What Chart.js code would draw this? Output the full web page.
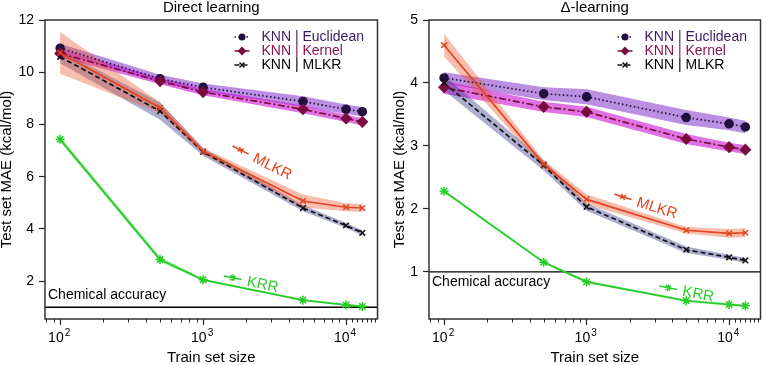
<!DOCTYPE html>
<html><head><meta charset="utf-8">
<script src="https://cdn.jsdelivr.net/npm/chart.js@4.4.1/dist/chart.umd.min.js"></script>
<style>
html,body{margin:0;padding:0;background:#fff;overflow:hidden;}
#wrap{position:relative;width:767px;height:365px;}
canvas{position:absolute;top:0;}
</style></head><body>
<div id="wrap">
<canvas id="c1" width="384" height="365" style="left:0"></canvas>
<canvas id="c2" width="383" height="365" style="left:384px"></canvas>
</div>
<script>
// ---------- data ----------
const trainSizes = [100, 500, 1000, 5000, 10000, 13000];

const directEuclidean    = [10.92, 9.75, 9.42, 8.88, 8.58, 8.49];
const directEuclideanErr = [0.17, 0.15, 0.15, 0.20, 0.18, 0.18];
const directKernel       = [10.72, 9.66, 9.24, 8.58, 8.23, 8.10];
const directKernelErr    = [0.15, 0.12, 0.12, 0.15, 0.14, 0.14];
const directKnnMlkr      = [10.59, 8.51, 6.95, 4.80, 4.13, 3.85];
const directKnnMlkrErr   = [0.25, 0.33, 0.15, 0.12, 0.10, 0.10];
const directMlkr         = [10.74, 8.64, 6.98, 5.07, 4.83, 4.80];
const directMlkrErr      = [0.80, 0.20, 0.12, 0.25, 0.15, 0.15];
const directKrr          = [7.43, 2.83, 2.05, 1.27, 1.09, 1.03];
const directKrrErr       = [0.10, 0.10, 0.04, 0.03, 0.03, 0.03];

const deltaEuclidean     = [4.08, 3.83, 3.78, 3.45, 3.35, 3.30];
const deltaEuclideanErr  = [0.09, 0.10, 0.12, 0.12, 0.10, 0.10];
const deltaKernel        = [3.93, 3.62, 3.54, 3.11, 2.98, 2.94];
const deltaKernelErr     = [0.10, 0.08, 0.08, 0.08, 0.07, 0.07];
const deltaKnnMlkr       = [4.00, 2.69, 2.03, 1.35, 1.23, 1.18];
const deltaKnnMlkrErr    = [0.12, 0.08, 0.06, 0.05, 0.04, 0.04];
const deltaMlkr          = [4.60, 2.71, 2.15, 1.66, 1.61, 1.62];
const deltaMlkrErr       = [0.18, 0.06, 0.08, 0.05, 0.07, 0.07];
const deltaKrr           = [2.28, 1.15, 0.84, 0.54, 0.48, 0.46];
const deltaKrrErr        = [0.02, 0.02, 0.02, 0.02, 0.02, 0.02];

const panelTitles = ['Direct learning', 'Δ-learning'];
const xAxisTitle = 'Train set size';
const yAxisTitle = 'Test set MAE (kcal/mol)';
const legendLabels = ['KNN | Euclidean', 'KNN | Kernel', 'KNN | MLKR'];
const inlineLabels = ['MLKR', 'KRR'];
const chemAccuracyLabel = 'Chemical accuracy';
const chemAccuracy = 1;

const xMajorTicks = [100, 1000, 10000];
const xMajorExponents = ['2', '3', '4'];
const xMinorTicks = [80, 90, 200, 300, 400, 500, 600, 700, 800, 900,
  2000, 3000, 4000, 5000, 6000, 7000, 8000, 9000, 11000, 12000, 13000, 14000, 15000, 16000];
const directYTicks = [2, 4, 6, 8, 10, 12];
const deltaYTicks = [1, 2, 3, 4, 5];
const xRange = [78.4, 16600];
const directYRange = [0.55, 12];
const deltaYRange = [0.25, 5];

// inline label anchors (data units): [MLKR, KRR]
const directInlinePos = [[1830, 7.02], [1610, 2.13]];
const deltaInlinePos = [[1800, 2.19], [3730, 0.746]];

// ---------- styles ----------
const FONT = '"Liberation Sans", Arial, Helvetica, sans-serif';
Chart.defaults.font.family = FONT;
Chart.defaults.color = '#000';

const ST = {
  euc:  {line: '#22103f', band: 'rgba(130,50,200,0.55)', dash: [1.5, 2.5], point: 'circle',   r: 4,   text: '#3b1a60', lineOrder: 4, bandOrder: 14},
  ker:  {line: '#7a0d3f', band: 'rgba(205,20,210,0.6)',  dash: [7, 2.5, 2, 2.5], point: 'rectRot', r: 5, text: '#8a1650', lineOrder: 3, bandOrder: 13},
  knn:  {line: '#111111', band: 'rgba(60,60,140,0.42)',  dash: [5, 3],     point: 'crossRot', r: 4,   text: '#000000', lineOrder: 2, bandOrder: 12},
  mlkr: {line: '#e5431d', band: 'rgba(235,90,50,0.4)',   dash: [],         point: 'crossRot', r: 4,   text: '#e5431d', lineOrder: 1, bandOrder: 11},
  krr:  {line: '#25cc25', band: 'rgba(40,200,40,0.4)',   dash: [],         point: 'star',     r: 4.5, text: '#25cc25', lineOrder: 0, bandOrder: 10}
};

function pts(vals, errs, sign) {
  return trainSizes.map((x, i) => ({x: x, y: vals[i] + sign * (errs ? errs[i] : 0)}));
}

function seriesDatasets(key, vals, errs) {
  const s = ST[key];
  return [
    {data: pts(vals, errs, 1), borderWidth: 0, pointRadius: 0, fill: false, order: s.bandOrder, borderColor: 'rgba(0,0,0,0)'},
    {data: pts(vals, errs, -1), borderWidth: 0, pointRadius: 0, fill: '-1', backgroundColor: s.band, order: s.bandOrder, borderColor: 'rgba(0,0,0,0)'},
    {data: pts(vals, null, 0), borderColor: s.line, borderWidth: 1.7, borderDash: s.dash, fill: false,
     pointStyle: s.point, pointRadius: s.r, pointBackgroundColor: s.line, pointBorderColor: s.line,
     pointBorderWidth: 1.5, order: s.lineOrder}
  ];
}

function drawMarker(ctx, style, r, x, y, color) {
  ctx.save();
  ctx.setLineDash([]);
  ctx.fillStyle = color; ctx.strokeStyle = color; ctx.lineWidth = 1.5;
  ctx.beginPath();
  if (style === 'circle') { ctx.arc(x, y, r, 0, Math.PI * 2); ctx.fill(); }
  else if (style === 'rectRot') { ctx.moveTo(x, y - r); ctx.lineTo(x + r, y); ctx.lineTo(x, y + r); ctx.lineTo(x - r, y); ctx.closePath(); ctx.fill(); }
  else if (style === 'crossRot') { const d = r * Math.SQRT1_2; ctx.moveTo(x - d, y - d); ctx.lineTo(x + d, y + d); ctx.moveTo(x + d, y - d); ctx.lineTo(x - d, y + d); ctx.stroke(); }
  else if (style === 'star') { const d = r * Math.SQRT1_2; ctx.moveTo(x - d, y - d); ctx.lineTo(x + d, y + d); ctx.moveTo(x + d, y - d); ctx.lineTo(x - d, y + d); ctx.moveTo(x, y - r); ctx.lineTo(x, y + r); ctx.moveTo(x - r, y); ctx.lineTo(x + r, y); ctx.stroke(); }
  ctx.restore();
}

const decor = {
  id: 'decor',
  beforeDatasetsDraw(chart, args, o) {
    const {ctx, chartArea: a} = chart;
    const y = chart.scales.y;
    const py = y.getPixelForValue(chemAccuracy);
    ctx.save();
    ctx.strokeStyle = '#000'; ctx.lineWidth = 1.3;
    ctx.beginPath(); ctx.moveTo(a.left, py); ctx.lineTo(a.right, py); ctx.stroke();
    ctx.fillStyle = '#000'; ctx.font = '14px ' + FONT;
    ctx.textAlign = 'left'; ctx.textBaseline = 'alphabetic';
    ctx.fillText(chemAccuracyLabel, a.left + 3, py + o.chemOffset);
    ctx.restore();
  },
  afterDraw(chart, args, o) {
    const {ctx, chartArea: a} = chart;
    const xs = chart.scales.x, ys = chart.scales.y;
    ctx.save();
    // frame
    ctx.strokeStyle = '#333'; ctx.lineWidth = 1.5; ctx.setLineDash([]);
    ctx.strokeRect(a.left, a.top, a.right - a.left, a.bottom - a.top);
    // minor x ticks
    ctx.lineWidth = 1; ctx.strokeStyle = '#222';
    xMinorTicks.forEach(v => {
      const px = Math.round(xs.getPixelForValue(v)) + 0.5;
      ctx.beginPath(); ctx.moveTo(px, a.bottom); ctx.lineTo(px, a.bottom + 3.5); ctx.stroke();
    });
    // x tick labels 10^n
    ctx.fillStyle = '#000'; ctx.textAlign = 'left'; ctx.textBaseline = 'alphabetic';
    xMajorTicks.forEach((v, i) => {
      const px = xs.getPixelForValue(v);
      ctx.font = '14px ' + FONT;
      const w1 = ctx.measureText('10').width;
      ctx.fillText('10', px - 12, a.bottom + 23);
      ctx.font = '10px ' + FONT;
      ctx.fillText(xMajorExponents[i], px - 12 + w1 + 1, a.bottom + 16.5);
    });
    // legend
    const keys = ['euc', 'ker', 'knn'];
    keys.forEach((k, i) => {
      const s = ST[k];
      const yy = o.legendTop + i * 14;
      const hx = a.right - 143;
      ctx.strokeStyle = s.line; ctx.lineWidth = 1.5;
      ctx.setLineDash(k === 'ker' ? [] : s.dash);
      ctx.beginPath(); ctx.moveTo(hx, yy); ctx.lineTo(hx + 15, yy); ctx.stroke();
      ctx.setLineDash([]);
      drawMarker(ctx, s.point, k === 'ker' ? 4.5 : 3.5, hx + 7.5, yy, s.line);
      ctx.fillStyle = s.text; ctx.font = '14px ' + FONT;
      ctx.textBaseline = 'middle'; ctx.textAlign = 'left';
      ctx.fillText(legendLabels[i], a.right - 116, yy + 0.5);
    });
    // inline labels
    const inl = [['mlkr', o.mlkrVals, o.inline[0]], ['krr', o.krrVals, o.inline[1]]];
    inl.forEach(([k, vals, pos], i) => {
      const s = ST[k];
      const x1 = xs.getPixelForValue(trainSizes[2]), y1 = ys.getPixelForValue(vals[2]);
      const x2 = xs.getPixelForValue(trainSizes[3]), y2 = ys.getPixelForValue(vals[3]);
      const ang = Math.atan2(y2 - y1, x2 - x1);
      const px = xs.getPixelForValue(pos[0]), py = ys.getPixelForValue(pos[1]);
      ctx.save();
      ctx.translate(px, py); ctx.rotate(ang);
      ctx.strokeStyle = s.line; ctx.lineWidth = 1.5; ctx.setLineDash([]);
      ctx.beginPath(); ctx.moveTo(-9, 0); ctx.lineTo(9, 0); ctx.stroke();
      drawMarker(ctx, s.point, 3.5, 0, 0, s.line);
      ctx.fillStyle = s.line; ctx.font = '15px ' + FONT;
      ctx.textAlign = 'left'; ctx.textBaseline = 'middle';
      ctx.fillText(inlineLabels[i], 15, 1);
      ctx.restore();
    });
    ctx.restore();
  }
};

function makeChart(id, title, vals, yRange, yTicks, opts) {
  const datasets = [].concat(
    seriesDatasets('euc', vals.euc, vals.eucErr),
    seriesDatasets('ker', vals.ker, vals.kerErr),
    seriesDatasets('knn', vals.knn, vals.knnErr),
    seriesDatasets('mlkr', vals.mlkr, vals.mlkrErr),
    seriesDatasets('krr', vals.krr, vals.krrErr)
  );
  return new Chart(document.getElementById(id), {
    type: 'line',
    data: {datasets},
    plugins: [decor],
    options: {
      responsive: false, animation: false, devicePixelRatio: 1,
      layout: {padding: {left: 0, right: opts.padRight, top: 0, bottom: 0}},
      plugins: {
        legend: {display: false}, tooltip: {enabled: false}, title: {display: false},
        decor: {chemOffset: opts.chemOffset, legendTop: 37, inline: opts.inline, mlkrVals: vals.mlkr, krrVals: vals.krr}
      },
      scales: {
        x: {
          type: 'logarithmic', position: 'bottom', min: xRange[0], max: xRange[1],
          afterBuildTicks: s => { s.ticks = xMajorTicks.map(v => ({value: v, major: true})); },
          afterFit: s => { s.height = 46; },
          ticks: {display: false, autoSkip: false},
          grid: {display: true, drawOnChartArea: false, drawTicks: true, tickLength: 6, tickColor: '#222', tickWidth: 1.2},
          border: {display: false},
          title: {display: true, text: xAxisTitle, color: '#000', font: {size: 15, lineHeight: 1}, padding: {top: 0, bottom: 0}}
        },
        y: {
          type: 'linear', position: 'left', min: yRange[0], max: yRange[1],
          afterBuildTicks: s => { s.ticks = yTicks.map(v => ({value: v})); },
          afterFit: s => { s.width = 45; },
          ticks: {color: '#000', font: {size: 14}, padding: 5, autoSkip: false},
          grid: {display: true, drawOnChartArea: false, drawTicks: true, tickLength: 6, tickColor: '#222', tickWidth: 1.2},
          border: {display: false},
          title: {display: true, text: yAxisTitle, color: '#000', font: {size: 15, lineHeight: 1}, padding: {top: opts.yTitlePad, bottom: 0}}
        },
        xTop: {
          type: 'linear', position: 'top', axis: 'x', display: true,
          afterFit: s => { s.height = 20; },
          ticks: {display: false}, grid: {display: false}, border: {display: false},
          title: {display: true, text: title, color: '#000', font: {size: 15, lineHeight: 1}, padding: {top: 0, bottom: 0}}
        }
      }
    }
  });
}

makeChart('c1', panelTitles[0], {
  euc: directEuclidean, eucErr: directEuclideanErr,
  ker: directKernel, kerErr: directKernelErr,
  knn: directKnnMlkr, knnErr: directKnnMlkrErr,
  mlkr: directMlkr, mlkrErr: directMlkrErr,
  krr: directKrr, krrErr: directKrrErr
}, directYRange, directYTicks, {padRight: 3, chemOffset: -8, inline: directInlinePos, yTitlePad: -1});

makeChart('c2', panelTitles[1], {
  euc: deltaEuclidean, eucErr: deltaEuclideanErr,
  ker: deltaKernel, kerErr: deltaKernelErr,
  knn: deltaKnnMlkr, knnErr: deltaKnnMlkrErr,
  mlkr: deltaMlkr, mlkrErr: deltaMlkrErr,
  krr: deltaKrr, krrErr: deltaKrrErr
}, deltaYRange, deltaYTicks, {padRight: 2, chemOffset: 14.5, inline: deltaInlinePos, yTitlePad: 8});
</script>
</body></html>
